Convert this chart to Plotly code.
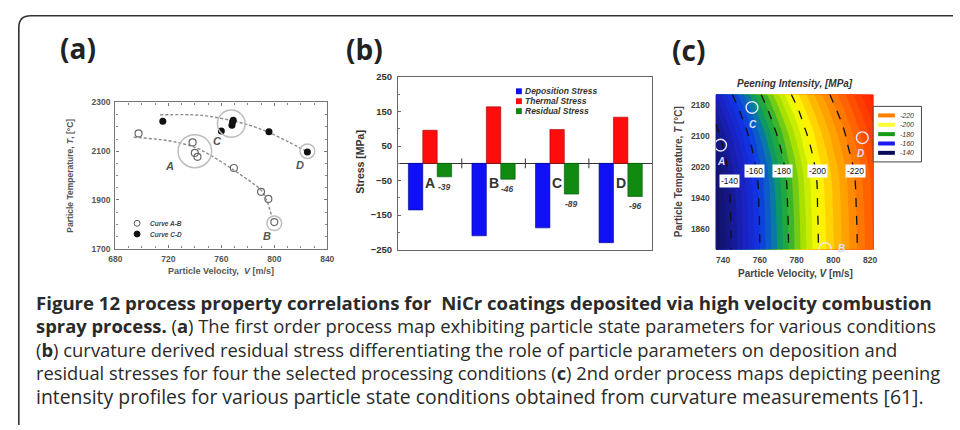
import plotly.graph_objects as go

W, H = 960, 430
SANS = "Liberation Sans, Arial, sans-serif"
CAP = "Open Sans, sans-serif"

# ---------------- Panel (a): first order process map ----------------
a_names = ["Curve A-B", "Curve C-D"]
ab_v = [697.5, 738.3, 740.0, 742.0, 769.5, 790.0, 795.5, 800.0]
ab_t = [2173, 2136, 2093, 2077, 2031, 1933, 1904, 1809]
cd_v = [715.8, 760.0, 768.0, 768.5, 769.0, 796.0, 825.0]
cd_t = [2223, 2183, 2207, 2220, 2227, 2180, 2097]
ab_fit_v = [693.8, 720, 740, 755, 770, 782.5, 790, 795, 798]
ab_fit_t = [2157, 2143, 2116, 2073, 2020, 1973, 1940, 1887, 1833]
cd_fit_v = [713.8, 745, 770, 785, 796, 810, 825]
cd_fit_t = [2249, 2247, 2223, 2200, 2177, 2140, 2097]
a_groups = ["A", "B", "C", "D"]
a_group_v = [740.0, 800.0, 767.5, 825.0]
a_group_t = [2100, 1804, 2213, 2100]
a_label_v = [721, 794.5, 756.8, 819.5]
a_label_t = [2040, 1753, 2140, 2044]

# ---------------- Panel (b): curvature derived stresses ----------------
stress_cats = ["A", "B", "C", "D"]
stress_names = ["Deposition Stress", "Thermal Stress", "Residual Stress"]
deposition = [-135, -210, -187, -230]
thermal = [96, 164, 98, 134]
residual = [-39, -46, -89, -96]

# ---------------- Panel (c): peening intensity map ----------------
peen_v = [736, 744, 752, 760, 768, 776, 784, 792, 800, 808, 816, 822]
peen_t = [1808, 1908, 2008, 2108, 2158, 2208]
peen_z = [
    [-129.0, -139.4, -149.7, -160.0, -170.3, -180.5, -190.4, -200.2, -207.7, -215.3, -222.8, -228.5],
    [-129.7, -140.0, -150.3, -160.6, -170.9, -181.1, -191.0, -200.7, -208.2, -215.8, -223.3, -229.0],
    [-131.4, -141.7, -152.0, -162.3, -172.6, -182.7, -192.6, -201.9, -209.4, -217.0, -224.5, -230.2],
    [-137.7, -148.0, -158.3, -168.6, -178.8, -188.8, -198.6, -206.5, -214.1, -221.6, -229.2, -234.8],
    [-142.6, -152.9, -163.2, -173.5, -183.6, -193.5, -202.5, -210.1, -217.6, -225.2, -232.7, -238.4],
    [-148.4, -158.7, -169.0, -179.2, -189.1, -199.0, -206.8, -214.3, -221.9, -229.4, -237.0, -242.6],
]
peen_levels = [-220, -200, -180, -160, -140]
peen_level_colors = ["#ff8000", "#ffff33", "#169c16", "#1a1aee", "#0b0b5c"]
peen_label_levels = [-140, -160, -180, -200, -220]
peen_label_v = [743.4, 757.3, 772.3, 791.1, 812.0]
peen_label_t = [1984, 2011, 2011, 2011, 2011]
cond_names = ["A", "C", "D", "B"]
cond_v = [738.6, 755.7, 815.7, 795.4]
cond_t = [2077, 2174, 2096, 1811]
cond_lab_v = [738.6, 756.1, 814.6, 804.3]
cond_lab_t = [2034, 2130, 2055, 1811]

# ---------------- helpers ----------------
def px(x):
    return x / W

def py(y):
    return 1 - y / H

annotations = []
shapes = []

def text(t, x, y, size, color="#333", family=SANS, angle=0, xanchor="center",
         yanchor="middle", xref="paper", yref="paper", bg=None, pad=0):
    d = dict(text=t, x=x, y=y, xref=xref, yref=yref, showarrow=False,
             font=dict(family=family, size=size, color=color), textangle=angle,
             xanchor=xanchor, yanchor=yanchor, borderpad=pad)
    if bg:
        d["bgcolor"] = bg
    annotations.append(d)

fig = go.Figure()

# ---- domains (pixel boxes)
A_BOX = (110, 325, 99, 249)
B_BOX = (397, 655, 73, 250)
C_BOX = (719.3, 879.3, 90.7, 250)
A_XR, A_YR = [680, 840], [1700, 2300]
B_XR, B_YR = [-0.5, len(stress_cats) - 0.5], [-250, 250]
C_XR, C_YR = [736, 821.8], [1808, 2207.6]

def dom(box):
    return [px(box[0]), px(box[1])], [py(box[3]), py(box[2])]

# ================= Panel (a) =================
fit_line = dict(color="#8c8c8c", width=1.4, dash="3px,2px", shape="spline")
fig.add_trace(go.Scatter(x=ab_fit_v, y=ab_fit_t, mode="lines", line=fit_line,
                         xaxis="x", yaxis="y", showlegend=False, hoverinfo="skip"))
fig.add_trace(go.Scatter(x=cd_fit_v, y=cd_fit_t, mode="lines", line=fit_line,
                         xaxis="x", yaxis="y", showlegend=False, hoverinfo="skip"))
fig.add_trace(go.Scatter(x=ab_v, y=ab_t, mode="markers", name=a_names[0],
                         marker=dict(symbol="circle-open", size=7, color="#6a6a6a",
                                     line=dict(width=1.2)),
                         xaxis="x", yaxis="y", showlegend=False))
fig.add_trace(go.Scatter(x=cd_v, y=cd_t, mode="markers", name=a_names[1],
                         marker=dict(symbol="circle", size=7, color="#111111"),
                         xaxis="x", yaxis="y", showlegend=False))

a_sx = (A_BOX[1] - A_BOX[0]) / (A_XR[1] - A_XR[0])
a_sy = (A_BOX[3] - A_BOX[2]) / (A_YR[1] - A_YR[0])
group_r = [17, 7.5, 14, 7.5]
for g, gv, gt, r, lv, lt in zip(a_groups, a_group_v, a_group_t, group_r, a_label_v, a_label_t):
    shapes.append(dict(type="circle", xref="x", yref="y",
                       x0=gv - r / a_sx, x1=gv + r / a_sx, y0=gt - r / a_sy, y1=gt + r / a_sy,
                       line=dict(color="#bdbdbd", width=1.5)))
    text(f"<b><i>{g}</i></b>", lv, lt, 11, "#555", xref="x", yref="y")

# legend (a)
for i, nm in enumerate(a_names):
    yy = 223 + 11 * i
    shapes.append(dict(type="circle", xref="paper", yref="paper",
                       x0=px(129), x1=px(135), y0=py(yy + 3), y1=py(yy - 3),
                       fillcolor="#111" if i == 1 else "rgba(0,0,0,0)",
                       line=dict(color="#555" if i == 0 else "#111", width=1)))
    text(f"<b><i>{nm}</i></b>", px(144), py(yy), 6.5, "#444", xanchor="left")

text("<b>Particle Velocity,  <i>V</i> [m/s]</b>", px(217), py(272), 9, "#555")
text("<b>Particle Temperature, <i>T</i>, [°C]</b>", px(63), py(174), 8.5, "#555", angle=-90)
text("<b>(a)</b>", px(72), py(43), 28, "#222", family=CAP)

# ================= Panel (b) =================
bar_colors = ["#1010f5", "#ff0d0d", "#118a11"]
bar_edges = ["#00008a", "#a00000", "#005500"]
idx = list(range(len(stress_cats)))
for vals, nm, col, ed in zip([deposition, thermal, residual], stress_names, bar_colors, bar_edges):
    fig.add_trace(go.Bar(x=idx, y=vals, name=nm,
                         marker=dict(color=col, line=dict(color=ed, width=0.6)),
                         xaxis="x2", yaxis="y2", showlegend=False, hoverinfo="skip"))
BARGAP = 0.32
bar_w = (1 - BARGAP) / 3
fig.add_trace(go.Scatter(x=[i + 0.5 for i in idx[:-1]], y=[0] * (len(idx) - 1), mode="markers",
                         marker=dict(symbol="line-ns", size=7, line=dict(color="#333", width=1)),
                         xaxis="x2", yaxis="y2", showlegend=False, hoverinfo="skip"))
for i, (c, r) in enumerate(zip(stress_cats, residual)):
    text(f"<b>{c}</b>", i, -58, 14, "#333", xref="x2", yref="y2")
    annotations.append(dict(text=f"<b><i>{r}</i></b>", x=i + bar_w, y=r, xref="x2", yref="y2",
                            showarrow=False, yanchor="top", yshift=-3,
                            font=dict(family=SANS, size=8.5, color="#444")))

for i, (nm, col) in enumerate(zip(stress_names, bar_colors)):
    yy = 87.5 + 10.2 * i
    shapes.append(dict(type="rect", xref="paper", yref="paper",
                       x0=px(516.5), x1=px(522.5), y0=py(yy + 3), y1=py(yy - 3),
                       fillcolor=col, line=dict(width=0)))
    text(f"<b><i>{nm}</i></b>", px(525), py(yy), 8.5, "#333", xanchor="left")

text("<b>Stress [MPa]</b>", px(358), py(160), 10.5, "#333", angle=-90)
text("<b>(b)</b>", px(362.5), py(44), 28, "#222", family=CAP)

# ================= Panel (c) =================
c_start, c_end, c_size = -244, -124, 4
zlo, zhi = c_start - c_size / 2, c_end + c_size / 2
stops = [(-246, "#ff1000"), (-232, "#ff4400"), (-220, "#ff8000"), (-210, "#ffb800"),
         (-200, "#ffff00"), (-190, "#a8e000"), (-181, "#30b030"), (-175, "#10a050"),
         (-169, "#0870b8"), (-160, "#1035e8"), (-150, "#1a22c4"), (-140, "#16188c"),
         (-122, "#0e0e48")]
peen_scale = [[(z - zlo) / (zhi - zlo), c] for z, c in stops]
peen_scale[0][0] = 0.0
peen_scale[-1][0] = 1.0

fig.add_trace(go.Contour(x=peen_v, y=peen_t, z=peen_z, xaxis="x3", yaxis="y3",
                         colorscale=peen_scale, autocontour=False,
                         contours=dict(start=c_start, end=c_end, size=c_size, coloring="fill",
                                       showlines=False),
                         line=dict(width=0, color="rgba(0,0,0,0)"),
                         showscale=False, hoverinfo="skip"))
fig.add_trace(go.Contour(x=peen_v, y=peen_t, z=peen_z, xaxis="x3", yaxis="y3",
                         autocontour=False,
                         contours=dict(start=min(peen_levels), end=max(peen_levels), size=20,
                                       coloring="none"),
                         line=dict(color="#111", width=1.3, dash="dash", smoothing=1.3),
                         showscale=False, hoverinfo="skip"))

for lv, v, t in zip(peen_label_levels, peen_label_v, peen_label_t):
    text(str(lv), v, t, 8.5, "#111", xref="x3", yref="y3", bg="white", pad=1)

c_sx = (C_BOX[1] - C_BOX[0]) / (C_XR[1] - C_XR[0])
c_sy = (C_BOX[3] - C_BOX[2]) / (C_YR[1] - C_YR[0])
for nm, v, t, lv, lt in zip(cond_names, cond_v, cond_t, cond_lab_v, cond_lab_t):
    r = 6
    shapes.append(dict(type="circle", xref="x3", yref="y3",
                       x0=v - r / c_sx, x1=v + r / c_sx, y0=t - r / c_sy, y1=t + r / c_sy,
                       line=dict(color="#e6e6ff", width=1.4)))
    text(f"<b><i>{nm}</i></b>", lv, lt, 10, "#dcdcff", xref="x3", yref="y3")

# legend (c)
shapes.append(dict(type="rect", xref="paper", yref="paper", x0=px(879), x1=px(928),
                   y0=py(160), y1=py(103), fillcolor="white", line=dict(color="#444", width=1)))
for i, (lv, col) in enumerate(zip(peen_levels, peen_level_colors)):
    yy = 112.3 + 9.6 * i
    shapes.append(dict(type="line", xref="paper", yref="paper", x0=px(884), x1=px(901),
                       y0=py(yy), y1=py(yy), line=dict(color=col, width=4)))
    text(f"<i>{lv}</i>", px(905), py(yy), 7, "#333", xanchor="left")

text("<b><i>Peening Intensity, [MPa]</i></b>", px(800), py(80), 10, "#333")
text("<b>Particle Velocity, <i>V</i> [m/s]</b>", px(800), py(275), 10, "#444")
text("<b>Particle Temperature, <i>T</i> [°C]</b>", px(681.5), py(170), 10, "#444", angle=-90)
text("<b>(c)</b>", px(691.5), py(45), 28, "#222", family=CAP)

# ================= Frame & caption =================
shapes.append(dict(type="path", xref="paper", yref="paper",
                   path=f"M {px(12)},0 L {px(12)},{py(22)} Q {px(12)},{py(10)} {px(24)},{py(10)} L 1,{py(10)}",
                   line=dict(color="#333", width=1.6)))

caption = [
    "<b>Figure 12 process property correlations for  NiCr coatings deposited via high velocity combustion</b>",
    "<b>spray process.</b> (<b>a</b>) The first order process map exhibiting particle state parameters for various conditions",
    "(<b>b</b>) curvature derived residual stress differentiating the role of particle parameters on deposition and",
    "residual stresses for four the selected processing conditions (<b>c</b>) 2nd order process maps depicting peening",
    "intensity profiles for various particle state conditions obtained from curvature measurements [61].",
]
cap_sizes = [18.6, 18.4, 18.4, 18.3, 19.4]
for i, (line, sz) in enumerate(zip(caption, cap_sizes)):
    text(line, px(28), py(304 + 24.2 * i), sz, "#2a2a2a", family=CAP, xanchor="left")

# ================= Layout =================
def axis(box_dom, rng, **kw):
    d = dict(domain=box_dom, range=rng, showgrid=False, zeroline=False, fixedrange=True)
    d.update(kw)
    return d

ax_dom, ay_dom = dom(A_BOX)
bx_dom, by_dom = dom(B_BOX)
cx_dom, cy_dom = dom(C_BOX)

tick_a = dict(family=SANS, size=8.5, color="#555", weight="bold")
tick_b = dict(family=SANS, size=9.5, color="#333", weight="bold")
tick_c = dict(family=SANS, size=8.5, color="#444", weight="bold")

fig.update_layout(
    width=W, height=H, margin=dict(l=0, r=0, t=0, b=0),
    paper_bgcolor="white", plot_bgcolor="white",
    barmode="group", bargap=BARGAP, bargroupgap=0,
    showlegend=False,
    xaxis=axis(ax_dom, A_XR, anchor="y", tick0=680, dtick=40, ticks="inside", ticklen=3,
               showline=True, mirror="ticks", linecolor="#777", linewidth=1.3, tickcolor="#777",
               tickfont=tick_a, ticklabelstandoff=2,
               minor=dict(ticks="inside", ticklen=2, dtick=10, tickcolor="#888")),
    yaxis=axis(ay_dom, A_YR, anchor="x", tick0=1700, dtick=200, ticks="inside", ticklen=3,
               showline=True, mirror="ticks", linecolor="#777", linewidth=1.3, tickcolor="#777",
               tickfont=tick_a, ticklabelstandoff=2,
               minor=dict(ticks="inside", ticklen=2, dtick=50, tickcolor="#888")),
    xaxis2=axis(bx_dom, B_XR, anchor="y2", showticklabels=False, ticks="",
                showline=True, mirror=True, linecolor="#666", linewidth=1.3),
    yaxis2=axis(by_dom, B_YR, anchor="x2", tick0=-250, dtick=100, ticks="inside", ticklen=3,
                showline=True, mirror=True, linecolor="#666", linewidth=1.3, tickcolor="#666",
                tickfont=tick_b, ticklabelstandoff=3, zeroline=True, zerolinecolor="#333",
                zerolinewidth=1.2,
                minor=dict(ticks="inside", ticklen=2, dtick=50, tickcolor="#777")),
    xaxis3=axis(cx_dom, C_XR, anchor="y3", tick0=740, dtick=20, ticks="",
                tickfont=tick_c, ticklabelstandoff=4, showline=False),
    yaxis3=axis(cy_dom, C_YR, anchor="x3", tick0=1860, dtick=80, ticks="",
                tickfont=tick_c, ticklabelstandoff=5, showline=False),
    annotations=annotations,
    shapes=shapes,
)

fig.write_html("out.html", post_script="document.body.style.margin='0';document.body.style.overflow='hidden';")
